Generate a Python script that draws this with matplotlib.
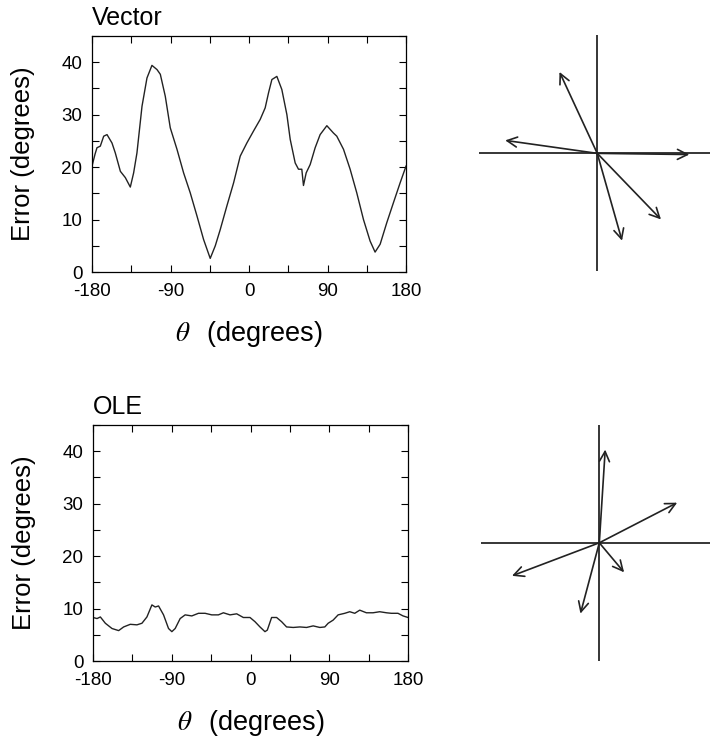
# -*- coding: utf-8 -*-
"""
use: direction error of vector vs OLE decoding, with the preferred-direction sets
"""

# import packages =============================================================

import matplotlib.pyplot as plt
from matplotlib.ticker import MultipleLocator

plt.rcParams["font.family"] = ["Liberation Sans", "DejaVu Sans"]
plt.rcParams["mathtext.fontset"] = "stix"
plt.rcParams["axes.unicode_minus"] = False

# data ========================================================================

vector_theta = [-180, -176.5, -174.3, -170.5, -166.6, -162.8, -157.1, -153.3, -147.5, -141.8,
                -136.1, -132.3, -128.5, -122.7, -117, -111.3, -105.5, -101.7, -96,
                -90.3, -82.6, -75, -67.4, -59.7, -52.1, -44.5, -38.7, -33, -25.4,
                -17.7, -10.1, -2.5, 5.2, 12.8, 18.5, 22.4, 26.2, 31.9, 37.6, 43.4,
                47.2, 52.9, 56.7, 60.5, 62.4, 65.5, 70.1, 75.8, 81.5, 89.2, 96.8,
                100.6, 108.3, 115.9, 123.5, 131.2, 138.8, 144.5, 150.3, 157.9, 165.5,
                173.2, 180]
vector_error = [20.2, 22.5, 23.7, 24.0, 25.9, 26.2, 24.6, 22.7, 19.2, 18.0,
                16.2, 18.9, 22.7, 31.6, 37.0, 39.4, 38.6, 37.7, 33.5,
                27.5, 23.4, 18.9, 15.1, 10.7, 6.2, 2.6, 5.0, 8.1, 12.6,
                17.0, 22.1, 24.6, 26.9, 29.1, 31.3, 34.2, 36.7, 37.3, 34.8, 30.0,
                25.3, 20.8, 19.6, 19.6, 16.5, 18.9, 20.5, 23.7, 26.2, 27.9, 26.5,
                25.9, 23.4, 19.6, 15.1, 10.0, 5.9, 3.8, 5.3, 9.4, 13.2,
                17.0, 20.2]

ole_theta = [-180, -175.4, -171.6, -165.9, -158.3, -150.7, -145, -137.4, -129.8,
             -124.1, -118.4, -112.7, -108.9, -105.1, -99.4, -93.7, -89.9, -86.1,
             -80.4, -74.7, -67.1, -59.5, -51.9, -44.3, -36.7, -31, -23.4, -15.8,
             -8.2, -0.6, 5.1, 10.8, 16.5, 19.2, 24.1, 29.8, 35.5, 41.2, 48.8, 56.4,
             64, 71.6, 79.2, 84.9, 88.7, 94.4, 100.1, 107.7, 113.4, 119.1, 124.8,
             132.4, 140, 147.6, 155.3, 160.9, 168.5, 174.3, 180]
ole_error = [8.3, 8.1, 8.4, 7.2, 6.2, 5.8, 6.5, 7.0, 6.9,
             7.2, 8.4, 10.7, 10.3, 10.5, 8.8, 6.2, 5.6, 6.2,
             8.1, 8.8, 8.6, 9.1, 9.1, 8.8, 8.8, 9.2, 8.8, 9.0,
             8.3, 8.3, 7.5, 6.5, 5.6, 5.9, 8.3, 8.3, 7.5, 6.5, 6.4, 6.5,
             6.4, 6.7, 6.4, 6.5, 7.2, 7.8, 8.8, 9.1, 9.4, 9.1, 9.7,
             9.2, 9.2, 9.4, 9.2, 9.1, 9.1, 8.6, 8.3]

# preferred direction vectors (x, y), cross arm = 1
vector_dirs_x = [-0.32, -0.78, 0.78, 0.54, 0.21]
vector_dirs_y = [0.69, 0.11, -0.01, -0.56, -0.74]
ole_dirs_x = [0.05, 0.66, -0.74, 0.21, -0.16]
ole_dirs_y = [0.79, 0.34, -0.28, -0.25, -0.60]

# figure ======================================================================

fig = plt.figure(figsize=(7.1, 7.38), dpi=100)


def error_panel(rect, theta, err, title):
    ax = fig.add_axes(rect)
    ax.plot(theta, err, color="#222222", lw=1.0)
    ax.set_xlim(-180, 180)
    ax.set_ylim(0, 45)
    ax.xaxis.set_major_locator(MultipleLocator(90))
    ax.xaxis.set_minor_locator(MultipleLocator(45))
    ax.yaxis.set_major_locator(MultipleLocator(10))
    ax.yaxis.set_minor_locator(MultipleLocator(5))
    ax.tick_params(which="both", direction="in", top=True, right=True,
                   length=5, width=0.8, labelsize=13.5)
    ax.tick_params(axis="x", pad=8)
    ax.tick_params(axis="y", pad=7)
    for s in ax.spines.values():
        s.set_linewidth(0.9)
    ax.set_title(title, loc="left", fontsize=18, pad=8)
    ax.set_xlabel(r"$\theta\,$  (degrees)", fontsize=19.5, va="center")
    ax.xaxis.set_label_coords(0.5, -0.262)
    ax.set_ylabel("Error (degrees)", fontsize=18.5, va="center")
    ax.yaxis.set_label_coords(-0.22, 0.5)
    return ax


def vector_panel(rect, dx, dy):
    ax = fig.add_axes(rect)
    ax.set_xlim(-1, 1)
    ax.set_ylim(-1, 1)
    ax.axis("off")
    ax.plot([-1, 1], [0, 0], color="black", lw=1.1)
    ax.plot([0, 0], [-1, 1], color="black", lw=1.1)
    for x, y in zip(dx, dy):
        ax.annotate("", xy=(x, y), xytext=(0, 0),
                    arrowprops=dict(arrowstyle="->", lw=1.2, color="#222222",
                                    mutation_scale=18, shrinkA=0, shrinkB=0))
    return ax


error_panel([0.1296, 0.6314, 0.4423, 0.3198], vector_theta, vector_error, "Vector")
error_panel([0.131, 0.1043, 0.4437, 0.3198], ole_theta, ole_error, "OLE")

vector_panel([0.675, 0.6323, 0.3324, 0.3198], vector_dirs_x, vector_dirs_y)
vector_panel([0.6779, 0.1046, 0.3324, 0.3198], ole_dirs_x, ole_dirs_y)

fig.savefig("out.png", dpi=100)
